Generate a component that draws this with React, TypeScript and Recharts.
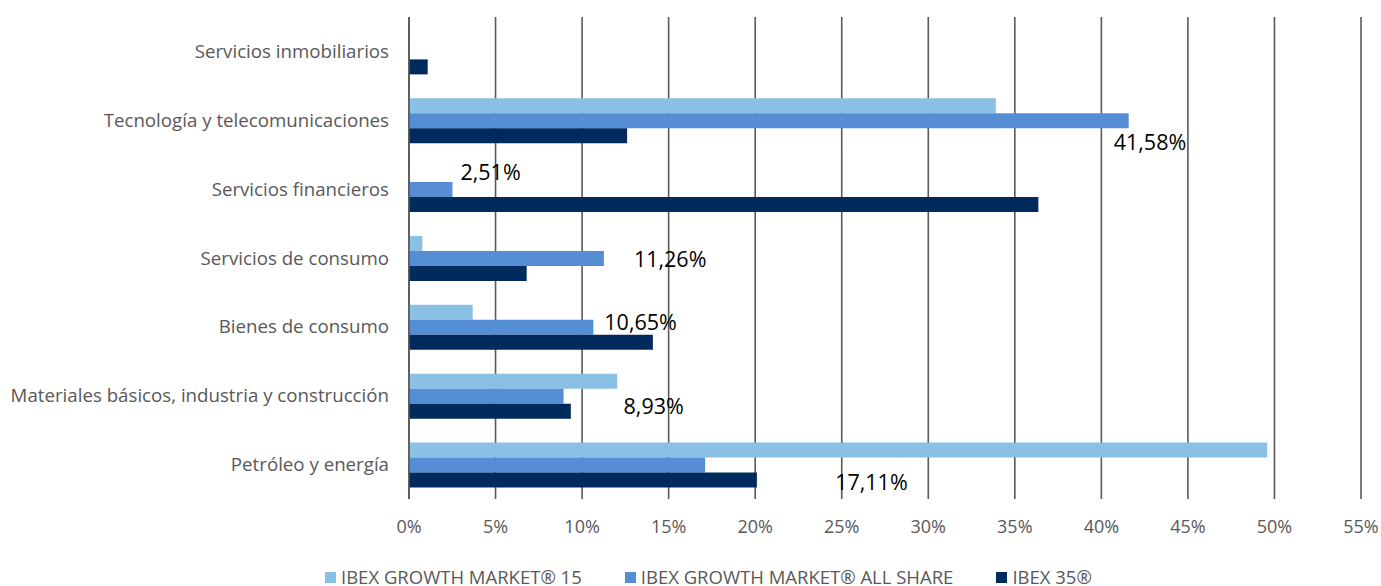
import { BarChart, Bar, XAxis, YAxis, CartesianGrid, Legend, LabelList } from 'recharts';

const categories = [
  'Servicios inmobiliarios',
  'Tecnología y telecomunicaciones',
  'Servicios financieros',
  'Servicios de consumo',
  'Bienes de consumo',
  'Materiales básicos, industria y construcción',
  'Petróleo y energía',
];

const growth15 = [null, 33.9, null, 0.77, 3.68, 12.03, 49.58];
const growthAllShare = [null, 41.58, 2.51, 11.26, 10.65, 8.93, 17.11];
const ibex35 = [1.08, 12.6, 36.36, 6.8, 14.09, 9.35, 20.1];

const xTicks = [0, 5, 10, 15, 20, 25, 30, 35, 40, 45, 50, 55];

const seriesNames = ['IBEX GROWTH MARKET® 15', 'IBEX GROWTH MARKET® ALL SHARE', 'IBEX 35®'];
const seriesColors = ['#89C0E3', '#558ED5', '#002B5C'];

// manual label placement per category (dx from bar end, dy from bar centre), like the moved Excel labels
const labelOffsets = [
  [0, 0],
  [-15, 21],
  [8, -18],
  [30, 0],
  [11, -6],
  [60, 9],
  [130, 16],
];

const data = categories.map((name, i) => ({
  name,
  g15: growth15[i],
  gAll: growthAllShare[i],
  ibex: ibex35[i],
}));

const FONT = '"Open Sans", sans-serif';

const fmt = (v: number) => v.toFixed(2).replace('.', ',') + '%';

const MovedLabel = (props: any) => {
  const { x, y, width, height, value } = props;
  if (value == null) return null;
  // index from LabelList skips empty bars, so look the category up by value
  const cat = growthAllShare.findIndex((v) => v === value);
  const [dx, dy] = labelOffsets[cat] || [0, 0];
  return (
    <text
      x={x + width + dx}
      y={y + height / 2 + dy}
      dominantBaseline="central"
      textAnchor="start"
      fontSize={21.5}
      fontFamily={FONT}
      fill="#000"
    >
      {fmt(value)}
    </text>
  );
};

const LegendContent = () => (
  <div
    style={{
      display: 'flex',
      alignItems: 'center',
      height: 24,
      lineHeight: '24px',
      paddingLeft: 325,
      fontFamily: FONT,
      fontSize: 18.5,
      color: '#595959',
      whiteSpace: 'nowrap',
    }}
  >
    {seriesNames.map((n, i) => (
      <div key={n} style={{ display: 'flex', alignItems: 'center', marginRight: 43 }}>
        <span style={{ width: 11, height: 11, background: seriesColors[i], marginRight: 5, display: 'inline-block' }} />
        <span>{n}</span>
      </div>
    ))}
  </div>
);

export default function App() {
  return (
    <div style={{ width: 1381, height: 586, background: '#fff', fontFamily: FONT }}>
      <style>{'body{margin:0}'}</style>
      <BarChart
        width={1381}
        height={586}
        data={data}
        layout="vertical"
        margin={{ top: 17, right: 20, bottom: 23, left: 0 }}
        barCategoryGap="18%"
        barGap={0}
      >
        <CartesianGrid horizontal={false} stroke="#595959" strokeWidth={1.6} />
        <XAxis
          type="number"
          domain={[0, 55]}
          ticks={xTicks}
          tickFormatter={(v) => v + '%'}
          axisLine={false}
          tickLine={false}
          tickSize={6}
          tickMargin={15}
          height={40}
          interval={0}
          tick={{ fontSize: 18, fill: '#595959', fontFamily: FONT }}
        />
        <YAxis
          type="category"
          dataKey="name"
          width={409}
          axisLine={{ stroke: '#595959', strokeWidth: 1.6 }}
          tickLine={false}
          tickSize={6}
          tickMargin={14}
          interval={0}
          tick={{ fontSize: 18.7, fill: '#595959', fontFamily: FONT }}
        />
        <Legend verticalAlign="bottom" content={<LegendContent />} wrapperStyle={{ bottom: -3, left: 0, width: 1381 }} />
        <Bar dataKey="g15" name={seriesNames[0]} fill={seriesColors[0]} isAnimationActive={false} />
        <Bar dataKey="gAll" name={seriesNames[1]} fill={seriesColors[1]} isAnimationActive={false}>
          <LabelList dataKey="gAll" content={<MovedLabel />} />
        </Bar>
        <Bar dataKey="ibex" name={seriesNames[2]} fill={seriesColors[2]} isAnimationActive={false} />
      </BarChart>
    </div>
  );
}
